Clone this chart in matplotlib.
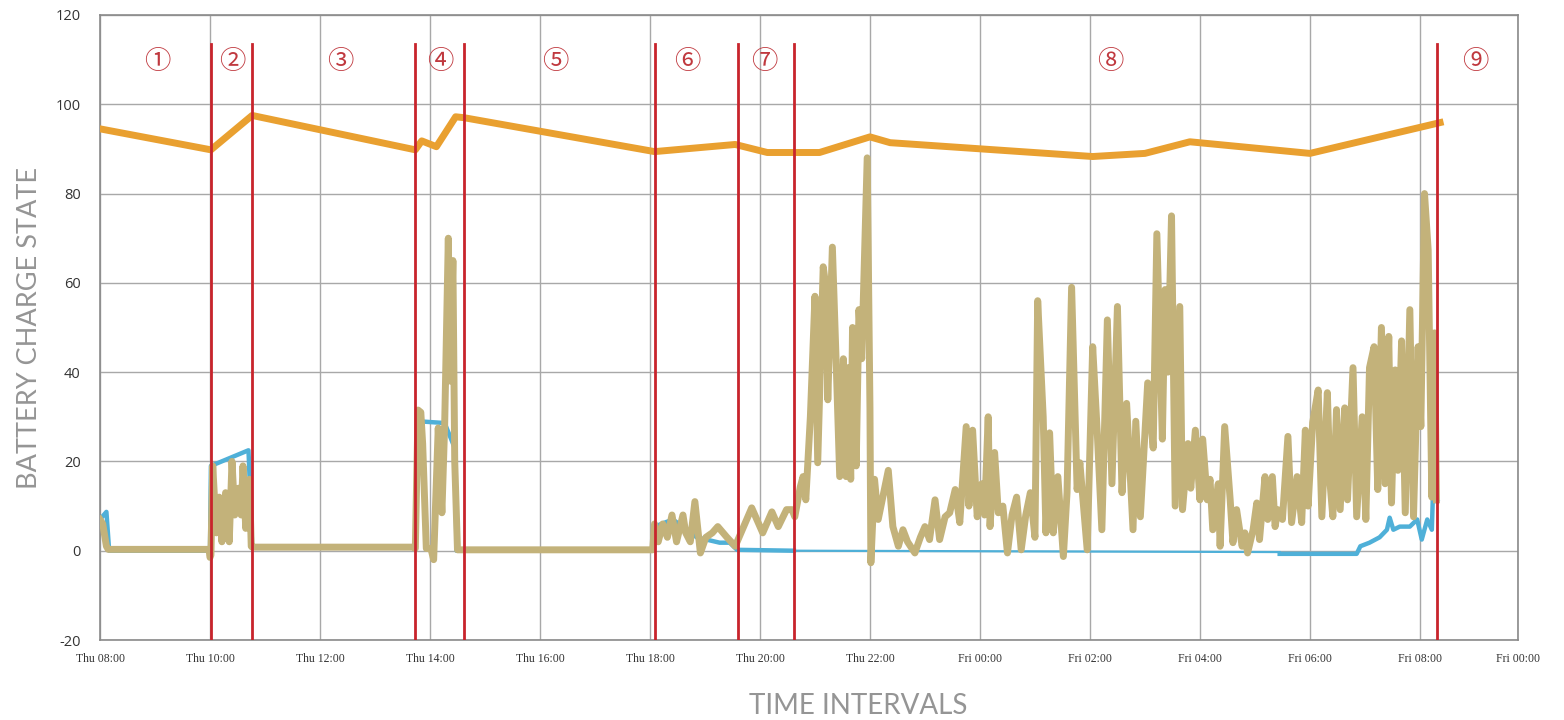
import matplotlib
matplotlib.use("Agg")
import matplotlib.pyplot as plt

# ---- data (x in minutes after Thu 08:00) ----
orange_t = [0, 121, 166, 344, 351, 367, 388, 397, 605, 693, 728, 785, 840, 862,
            1083, 1140, 1189, 1320, 1462]
orange_v = [94.5, 89.8, 97.5, 89.8, 91.8, 90.5, 97.2, 97.0, 89.4, 91.0, 89.2, 89.2,
            92.7, 91.4, 88.3, 89.0, 91.6, 89.0, 95.9]

tan_t = [0, 3, 7, 9, 119, 120,
         121, 123, 127, 130, 133, 137, 141, 144, 147, 151, 154, 156, 159, 163, 165,
         166, 343,
         344, 347, 350, 352, 356, 361, 364, 369, 373, 376, 380, 382, 385, 387, 390,
         603,
         605, 609, 614, 619, 624, 629, 636, 639, 644, 649, 655, 661, 668, 674, 684, 693,
         711, 723, 733, 740, 749, 755, 758,
         764, 767, 770, 775, 780, 783, 789, 792, 794, 799, 803, 807, 811, 814, 816, 819,
         821, 825, 828, 831, 837, 840, 841, 845, 849, 854, 860, 865, 871, 876, 881, 889,
         895, 900, 905, 911, 916, 922, 927, 933, 938, 945, 948, 952, 957, 962, 965, 969,
         971, 976, 980, 985, 990, 995, 1000, 1005, 1010, 1015, 1020, 1023, 1029, 1032,
         1036, 1040, 1045, 1051, 1055, 1060, 1066, 1069, 1077, 1083, 1088, 1093, 1099,
         1104, 1110, 1115, 1120, 1127, 1130, 1135, 1143, 1149, 1153, 1159, 1162, 1165,
         1169, 1173, 1178, 1181, 1187, 1190, 1195, 1200, 1203, 1208, 1211, 1214, 1220,
         1222, 1227, 1233, 1236, 1240, 1246, 1249, 1252, 1258, 1262, 1265, 1271, 1274,
         1279, 1282, 1285, 1290, 1296, 1300, 1306, 1311, 1315, 1318, 1323, 1329, 1333,
         1339, 1342, 1345, 1349, 1353, 1358, 1361, 1367, 1371, 1377, 1381, 1385, 1390,
         1394, 1398, 1402, 1406, 1409, 1413, 1416, 1420, 1424, 1429, 1433, 1438, 1441,
         1445, 1449, 1453, 1456, 1458]
tan_v = [7, 6, 1, 0.3, 0.3, -1.5,
         -1, 19, 4, 12, 2, 13, 2, 20, 8, 14, 8, 19, 5, 16, 1,
         0.8, 0.8,
         0.5, 31.5, 31, 24, 0.5, 0.5, -2, 27.5, 8.5, 28, 70, 38, 65, 20, 0.2,
         0.2,
         6, 2, 6, 3, 8, 2, 8, 4, 2, 11, -0.5, 3, 4, 5.4, 3, 1,
         9.6, 4, 8.7, 5.4, 9.2, 9.2, 7.6,
         14.3, 16.6, 11.4, 30, 57, 19.7, 63.6, 59, 33.8, 68, 43, 16.6, 43, 16.6, 41, 16,
         50, 19, 54, 43, 88, 32, -2.7, 16, 7, 12, 18, 5.4, 1, 4.7, 2, -0.5,
         3, 5.4, 2.5, 11.4, 2.5, 7.6, 8.5, 13.7, 6.3, 27.8, 10, 27, 7.6, 15, 8, 30,
         5.4, 22, 8.5, 10, -0.5, 8, 12, 0.2, 8, 13, 3, 56, 30, 4,
         26.4, 4, 16.6, -1.3, 13, 59, 13.7, 19.7, 0.2, 45.7, 26.4, 4.7, 51.7,
         15, 54.7, 13, 33, 4.7, 29, 7.6, 37.6, 23, 71, 25, 58.5, 40,
         75, 10, 54.7, 9.2, 24, 14, 27, 11.4, 25, 11.4, 16, 4.7, 15,
         1, 27.8, 11.4, 1.8, 9.2, 1, 4, -0.5, 4.7, 10.7, 2.5, 16.6, 7,
         16.6, 5.4, 9.2, 7, 25.6, 6.3, 16.6, 6.3, 27, 10, 28.7, 36, 7.6,
         35.4, 15, 7.6, 31.6, 9.2, 32, 11.4, 41, 7.6, 30, 7, 41, 45.7,
         13.7, 50, 15, 48, 10.7, 40.5, 18, 47, 8.5, 54, 7.6, 45.7, 27.8,
         80, 67.4, 12, 48.8, 11.4]

blue_a_t = [0, 7, 10, 120, 121, 162, 166, 344, 347, 376, 387, 389, 603, 605, 625, 651,
            676, 687, 695, 757]
blue_a_v = [7, 8.7, 0, 0, 19, 22.5, 1, 1, 29, 28.6, 23, 0, 0.2, 5.4, 7, 3,
            1.8, 1.8, 0.2, 0]
blue_b_t = [757, 1287]
blue_b_v = [0, -0.3]
blue_c_t = [1287, 1371, 1375, 1385, 1396, 1404, 1407, 1411, 1418, 1429, 1437, 1442,
            1448, 1453, 1454, 1459]
blue_c_v = [-0.7, -0.7, 1, 1.8, 3, 4.7, 7.4, 4.7, 5.4, 5.4, 7, 2.5, 7, 4.7, 11.4, 11]

phase_bounds = [121, 166, 344, 397, 605, 696, 757, 1459]
phase_labels = ["①", "②", "③", "④", "⑤", "⑥", "⑦", "⑧", "⑨"]
phase_label_t = [63, 144, 262, 371, 497, 641, 725, 1102, 1500]

tick_pos = [0, 120, 240, 360, 480, 600, 720, 840, 960, 1080, 1200, 1320, 1440, 1547]
tick_labels = ["Thu 08:00", "Thu 10:00", "Thu 12:00", "Thu 14:00", "Thu 16:00",
               "Thu 18:00", "Thu 20:00", "Thu 22:00", "Fri 00:00", "Fri 02:00",
               "Fri 04:00", "Fri 06:00", "Fri 08:00", "Fri 00:00"]
y_ticks = [-20, 0, 20, 40, 60, 80, 100, 120]

# ---- figure ----
fig = plt.figure(figsize=(15.64, 7.2), dpi=100)
ax = fig.add_axes([100 / 1564, 80 / 720, 1418 / 1564, 625 / 720])

grid_c = "#a8a8a8"
for yv in y_ticks:
    ax.axhline(yv, color=grid_c, lw=1.0, zorder=0)
for xv in tick_pos:
    ax.axvline(xv, color=grid_c, lw=1.0, zorder=0)

ax.plot(blue_b_t, blue_b_v, color="#4FB0D8", lw=1.6, zorder=2)
ax.plot(blue_a_t, blue_a_v, color="#4FB0D8", lw=3.2, zorder=2)
ax.plot(blue_c_t, blue_c_v, color="#4FB0D8", lw=3.2, zorder=2)
ax.plot(tan_t, tan_v, color="#C3B27A", lw=5.0, zorder=3)
ax.plot(orange_t, orange_v, color="#E9A030", lw=5.0, zorder=4)

for b in phase_bounds:
    ax.plot([b, b], [-20, 113.5], color="#C8242C", lw=2.0, zorder=5)

for lab, t in zip(phase_labels, phase_label_t):
    ax.text(t, 109.5, lab, ha="center", va="center", fontsize=19, color="#C0393F",
            family=["Noto Sans CJK JP", "DejaVu Sans"], zorder=6)

ax.set_xlim(0, 1547)
ax.set_ylim(-20, 120)
ax.set_xticks(tick_pos)
ax.set_xticklabels(tick_labels, fontsize=8.5, color="#333333", family="Liberation Serif")
ax.set_yticks(y_ticks)
ax.set_yticklabels([str(v) for v in y_ticks], fontsize=10.5, color="#333333",
                   family="Open Sans")
ax.tick_params(axis="both", length=0)
ax.tick_params(axis="x", pad=9)
ax.tick_params(axis="y", pad=14)
for s in ax.spines.values():
    s.set_color("#8a8a8a")
    s.set_linewidth(1.2)

fig.text(30 / 1564, 1 - 328 / 720, "BATTERY CHARGE STATE", rotation=90, ha="center",
         va="center", fontsize=19.5, color="#959595", family="Lato")
fig.text(858 / 1564, 1 - 706 / 720, "TIME INTERVALS", ha="center", va="center",
         fontsize=20, color="#959595", family="Lato")

fig.savefig("out.png", dpi=100, facecolor="white")
